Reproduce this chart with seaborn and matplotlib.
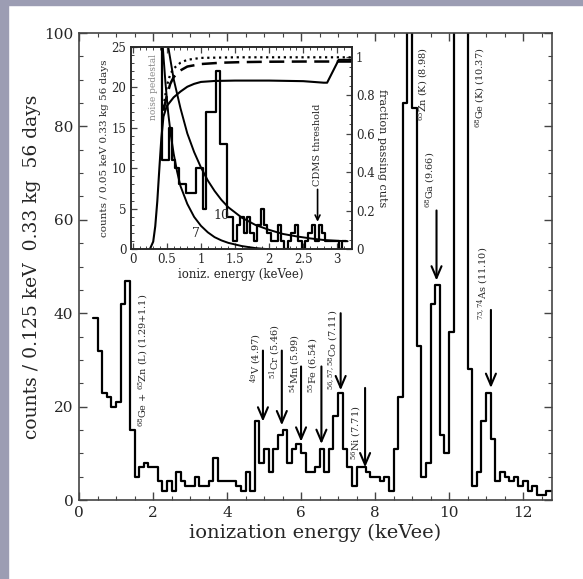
import numpy as np
import pandas as pd
import matplotlib
matplotlib.use("Agg")
import matplotlib.pyplot as plt
from matplotlib.patches import Rectangle
from matplotlib.ticker import MultipleLocator, FormatStrFormatter
import seaborn as sns

sns.set_theme(style="ticks")
plt.rcParams["font.family"] = ["DejaVu Serif"]
plt.rcParams["mathtext.fontset"] = "dejavuserif"

# main spectrum: 0.125 keV bins from 0.375 keV (bins above 100 are off scale)
main_start = 0.375
main_width = 0.125
main_counts = [39, 32, 23, 22, 20, 21, 42, 47, 15, 5,
               7, 8, 7, 7, 4, 2, 4, 2, 6, 4,
               3, 3, 5, 3, 3, 4, 9, 4, 4, 4,
               4, 3, 2, 6, 2, 17, 8, 11, 6, 11,
               14, 15, 8, 11, 12, 10, 6, 6, 7, 11,
               6, 11, 18, 23, 11, 7, 3, 7, 7, 6,
               5, 5, 4, 5, 2, 11, 22, 85, 150, 84,
               33, 5, 8, 42, 46, 14, 10, 36, 150, 150,
               150, 28, 3, 6, 17, 23, 13, 4, 6, 5,
               4, 5, 3, 4, 2, 3, 1, 1, 2]

# inset spectrum: 0.05 keV bins from 0.375 keV
inset_start = 0.375
inset_width = 0.05
inset_counts = [30, 11, 11, 15, 11, 10, 8, 8, 7, 7,
                7, 10, 10, 5, 17, 17, 17, 22, 13, 13,
                4, 4, 1, 3, 4, 2, 4, 2, 1, 3,
                5, 3, 2, 1, 1, 3, 1, 0, 1, 2,
                3, 1, 0, 1, 2, 3, 1, 3, 2, 1,
                1, 1, 1, 0, 1]

# background model curves (counts)
curve10_e = [0.52, 0.6, 0.7, 0.8, 0.9, 1.0, 1.1, 1.2, 1.3, 1.4, 1.6, 1.8, 2.0, 2.2, 2.4, 2.6, 2.8, 3.0, 3.15]
curve10_y = [25, 21, 17.4, 14.3, 12, 10.1, 8.5, 7.2, 6.1, 5.2, 3.9, 3.0, 2.4, 1.9, 1.6, 1.35, 1.15, 1.05, 1.0]
curve7_e = [0.44, 0.48, 0.52, 0.56, 0.6, 0.65, 0.7, 0.8, 0.9, 1.0, 1.1, 1.2, 1.3, 1.4, 1.6, 1.8, 2.0]
curve7_y = [25, 20.5, 16.8, 14, 11.8, 9.6, 7.8, 5.6, 4.0, 2.9, 2.1, 1.5, 1.1, 0.8, 0.4, 0.15, 0.0]

# cut efficiencies (fraction passing cuts)
eff_solid_e = [0.25, 0.30, 0.33, 0.36, 0.39, 0.42, 0.45, 0.5, 0.6, 0.7, 0.8, 0.9, 1.0, 1.2, 1.5, 2.0, 2.5, 2.8, 2.85, 3.02, 3.25]
eff_solid_y = [0.0, 0.04, 0.12, 0.25, 0.42, 0.58, 0.69, 0.745, 0.79, 0.82, 0.845, 0.86, 0.87, 0.875, 0.877, 0.877, 0.874, 0.866, 0.866, 0.985, 0.985]
eff_dash_e = [0.45, 0.5, 0.55, 0.6, 0.7, 0.8, 1.0, 1.3, 1.6, 2.0, 2.5, 3.25]
eff_dash_y = [0.72, 0.80, 0.86, 0.895, 0.93, 0.95, 0.963, 0.97, 0.973, 0.975, 0.976, 0.976]
eff_dot_e = [0.45, 0.5, 0.55, 0.6, 0.7, 0.8, 1.0, 1.5, 3.25]
eff_dot_y = [0.74, 0.85, 0.91, 0.94, 0.97, 0.985, 0.995, 0.998, 0.998]

# line labels: text, text x, text bottom, arrow x, arrow top, arrow tip
line_text = [r"$^{49}$V (4.97)", r"$^{51}$Cr (5.46)", r"$^{54}$Mn (5.99)", r"$^{55}$Fe (6.54)",
             r"$^{56,57,58}$Co (7.11)", r"$^{56}$Ni (7.71)", r"$^{68}$Ga (9.66)", r"$^{73,74}$As (11.10)"]
line_tx = [4.78, 5.30, 5.84, 6.33, 6.86, 7.50, 9.50, 10.93]
line_ty = [25, 26, 23, 23, 23.5, 8.5, 62.5, 38.6]
arrow_x = [4.97, 5.48, 6.0, 6.55, 7.07, 7.73, 9.66, 11.13]
arrow_top = [32, 32, 28.6, 28.6, 40, 24, 62, 40.7]
arrow_tip = [16.8, 16, 12.5, 12, 23.5, 7, 47, 24]

main_edges = list(main_start + main_width * np.arange(len(main_counts) + 1))
main_df = pd.DataFrame({"energy": [(a + b) / 2 for a, b in zip(main_edges[:-1], main_edges[1:])],
                        "counts": main_counts})
in_edges = list(inset_start + inset_width * np.arange(len(inset_counts) + 1))
inset_df = pd.DataFrame({"energy": [(a + b) / 2 for a, b in zip(in_edges[:-1], in_edges[1:])],
                         "counts": inset_counts})

fig = plt.figure(figsize=(5.83, 5.79), dpi=100)
fig.patch.set_facecolor("white")
fig.patches.append(Rectangle((0, 0), 8 / 583, 1, transform=fig.transFigure, color="#9c9db3", zorder=0))
fig.patches.append(Rectangle((0, 1 - 5 / 579), 1, 5 / 579, transform=fig.transFigure, color="#9c9db3", zorder=0))

ax = fig.add_axes([0.1355, 0.1364, 0.8113, 0.8066])
sns.histplot(data=main_df, x="energy", weights="counts", bins=main_edges, element="step", fill=False,
             color="black", linewidth=1.6, ax=ax)
ax.set_xlim(0, 12.78)
ax.set_ylim(0, 100)
ax.xaxis.set_major_locator(MultipleLocator(2))
ax.xaxis.set_minor_locator(MultipleLocator(0.5))
ax.yaxis.set_major_locator(MultipleLocator(20))
ax.yaxis.set_minor_locator(MultipleLocator(5))
ax.tick_params(which="both", direction="in", top=True, right=True, color="#444444", labelsize=11)
ax.tick_params(which="major", length=6, width=1, pad=4)
ax.tick_params(which="minor", length=3, width=0.8)
for s in ax.spines.values():
    s.set_color("#444444")
    s.set_linewidth(1.2)
ax.set_xlabel("ionization energy (keVee)", fontsize=14, labelpad=3)
ax.set_ylabel("counts / 0.125 keV  0.33 kg  56 days", fontsize=13.5, labelpad=2)

ax.text(1.73, 15.6, r"$^{68}$Ge + $^{65}$Zn (L) (1.29+1.1)", rotation=90, ha="center", va="bottom", fontsize=7)
ax.text(9.30, 97, r"$^{65}$Zn (K) (8.98)", rotation=90, ha="center", va="top", fontsize=7)
ax.text(10.84, 97, r"$^{68}$Ge (K) (10.37)", rotation=90, ha="center", va="top", fontsize=7)
for t, tx, ty, axx, atop, atip in zip(line_text, line_tx, line_ty, arrow_x, arrow_top, arrow_tip):
    ax.text(tx, ty, t, rotation=90, ha="center", va="bottom", fontsize=7)
    ax.annotate("", xy=(axx, atip), xytext=(axx, atop),
                arrowprops=dict(arrowstyle="->,head_length=0.7,head_width=0.3", lw=1.5,
                                color="black", shrinkA=0, shrinkB=0))

# inset
ax_in = fig.add_axes([0.2242, 0.5694, 0.379, 0.3499], zorder=3)
ax_in.set_facecolor("white")
sns.histplot(data=inset_df, x="energy", weights="counts", bins=in_edges, element="step", fill=False,
             color="black", linewidth=1.6, ax=ax_in)
sns.lineplot(x=curve10_e, y=curve10_y, color="black", linewidth=1.4, ax=ax_in)
sns.lineplot(x=curve7_e, y=curve7_y, color="black", linewidth=1.4, ax=ax_in)
ax_in.set_xlim(-0.03, 3.21)
ax_in.set_ylim(0, 25)
ax_in.xaxis.set_major_locator(MultipleLocator(0.5))
ax_in.xaxis.set_minor_locator(MultipleLocator(0.1))
ax_in.yaxis.set_major_locator(MultipleLocator(5))
ax_in.yaxis.set_minor_locator(MultipleLocator(1))
ax_in.xaxis.set_major_formatter(FormatStrFormatter("%g"))
ax_in.tick_params(which="both", direction="in", top=True, right=False, color="#444444", labelsize=8.5)
ax_in.tick_params(which="major", length=4, width=0.9, pad=3)
ax_in.tick_params(which="minor", length=2, width=0.7)
for s in ax_in.spines.values():
    s.set_color("#444444")
    s.set_linewidth(1.1)
ax_in.set_xlabel("ioniz. energy (keVee)", fontsize=8.5, labelpad=1)
ax_in.set_ylabel("counts / 0.05 keV 0.33 kg 56 days", fontsize=7.5, labelpad=2)
ax_in.text(1.3, 4.2, "10", fontsize=9, ha="center", va="center")
ax_in.text(0.93, 1.9, "7", fontsize=9, ha="center", va="center")
ax_in.text(0.31, 20, "noise pedestal", rotation=90, ha="center", va="center", fontsize=6.5, color="#888888")
ax_in.annotate("CDMS threshold", xy=(2.71, 3.4), xytext=(2.71, 7.8), rotation=90,
               ha="center", va="bottom", fontsize=7,
               arrowprops=dict(arrowstyle="->,head_length=0.5,head_width=0.25", lw=1.2,
                               color="black", shrinkA=0, shrinkB=0))

ax_fr = ax_in.twinx()
sns.lineplot(x=eff_solid_e, y=eff_solid_y, color="black", linewidth=1.5, ax=ax_fr)
sns.lineplot(x=eff_dash_e, y=eff_dash_y, color="black", linewidth=1.8, ax=ax_fr)
sns.lineplot(x=eff_dot_e, y=eff_dot_y, color="black", linewidth=1.6, ax=ax_fr)
ax_fr.lines[1].set_dashes([6, 3])
ax_fr.lines[2].set_linestyle(":")
ax_fr.set_ylim(0, 1.053)
ax_fr.yaxis.set_major_locator(MultipleLocator(0.2))
ax_fr.yaxis.set_minor_locator(MultipleLocator(0.05))
ax_fr.yaxis.set_major_formatter(FormatStrFormatter("%g"))
ax_fr.tick_params(which="both", direction="in", color="#444444", labelsize=8.5)
ax_fr.tick_params(which="major", length=4, width=0.9, pad=3)
ax_fr.tick_params(which="minor", length=2, width=0.7)
ax_fr.set_ylabel("fraction passing cuts", fontsize=8, rotation=270, va="bottom", labelpad=2)

plt.savefig("out.png", dpi=100)
